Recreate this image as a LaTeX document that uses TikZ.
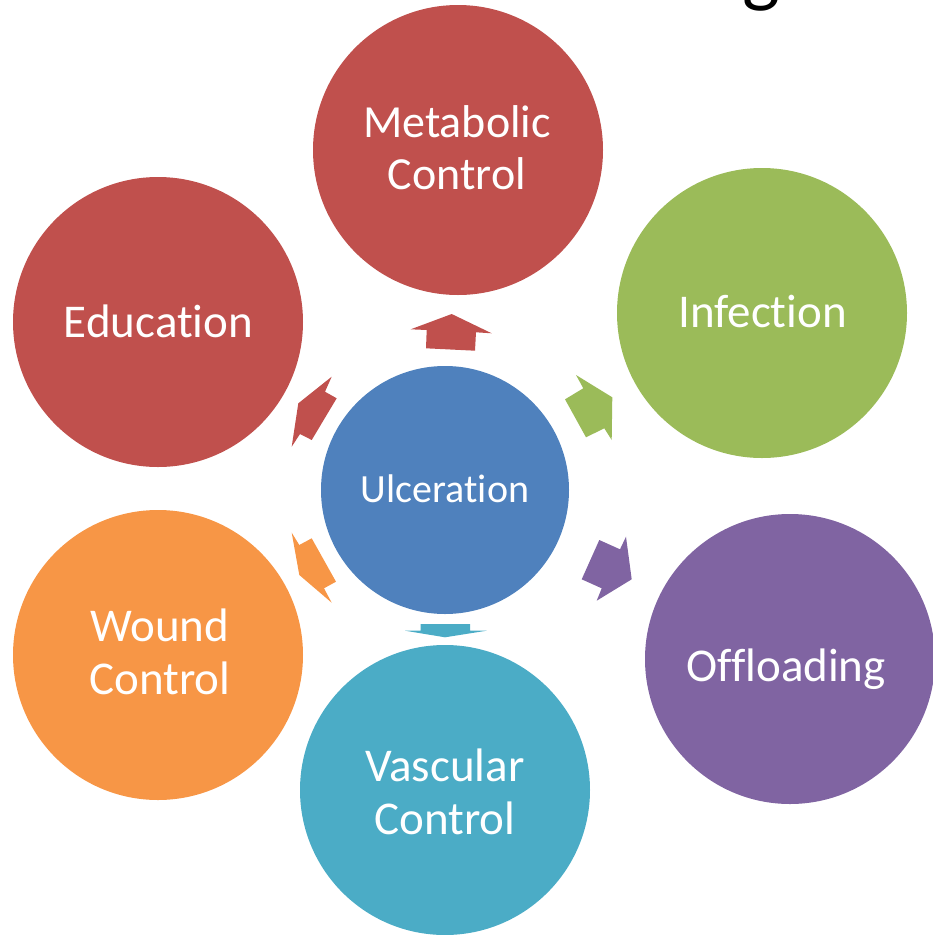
\documentclass[tikz,border=0pt]{standalone}
\usepackage{fontspec}
\setmainfont{Carlito}[Ligatures={NoCommon}]
\definecolor{ored}{HTML}{C0504D}
\definecolor{ogreen}{HTML}{9BBB59}
\definecolor{opurple}{HTML}{8064A2}
\definecolor{oteal}{HTML}{4BACC6}
\definecolor{oorange}{HTML}{F79646}
\definecolor{oblue}{HTML}{4F81BD}
\begin{document}
\begin{tikzpicture}[x=1pt,y=-1pt,
  bubble/.style={circle,inner sep=0pt,minimum size=290pt},
  hub/.style={circle,inner sep=0pt,minimum size=248pt,fill=oblue},
  caption/.style={text=white,align=center,inner sep=0pt,
    font=\fontsize{47}{53}\selectfont},
  pointer/.style={draw=none},
]
\useasboundingbox (0,0) rectangle (933,935);
\clip (0,0) rectangle (933,935);

% tail of the heading letter running off the top edge
\node[anchor=base,inner sep=0pt,font=\fontsize{80}{80}\selectfont] (headg) at (761,-3) {g};

% outer ring of topics
\node[bubble,fill=ored]    (metab) at (458,150) {};
\node[bubble,fill=ogreen]  (infec) at (762,313) {};
\node[bubble,fill=opurple] (offld) at (790,659) {};
\node[bubble,fill=oteal]   (vascl) at (445,790) {};
\node[bubble,fill=oorange] (wound) at (158,655) {};
\node[bubble,fill=ored]    (educ)  at (158,322) {};

% pointer shapes between the hub and each topic
\fill[pointer,ored]    (451.7,314) -- (491.7,333.3) -- (476,332.3) -- (475,350.7)
  -- (426,348.3) -- (426.7,330) -- (410.7,329.3) -- cycle;
\fill[pointer,ogreen]  (576,375) -- (583.3,388.3) -- (565,399.3) -- (586,437.3)
  -- (604.3,428.3) -- (611.7,440) -- (612.3,397.3) -- cycle;
\fill[pointer,opurple] (599.3,540) -- (620,549.3) -- (626,536.7) -- (631.7,579.3)
  -- (596.7,600.7) -- (601.7,588.3) -- (581.7,579.3) -- cycle;
\fill[pointer,oteal]   (420.7,624) -- (470,624) -- (470,630.7) -- (486.7,630.7)
  -- (445,637.3) -- (405,630.7) -- (420.7,630.7) -- cycle;
\fill[pointer,oorange] (291.7,532.7) -- (299.3,545) -- (311.7,538.3) -- (336,581.7)
  -- (324,588.3) -- (331.7,602.7) -- (299.3,575) -- cycle;
\fill[pointer,ored]    (331.7,376.7) -- (325,391.7) -- (336.7,398.3) -- (311.7,440)
  -- (300,434) -- (291.7,446.7) -- (298.3,403.3) -- cycle;

% hub
\node[hub] (ulcer) at (445,490) {};

% labels
\node[caption,font=\fontsize{46}{52}\selectfont] (tmetab) at (457,148) {Metabolic\\Control};
\node[caption] (tinfec) at (762.5,311) {Infection};
\node[caption] (toffld) at (786,669) {Offloading};
\node[caption] (tvascl) at (445,791.5) {Vascular\\Control};
\node[caption] (twound) at (160,652) {Wound\\Control};
\node[caption] (teduc)  at (158.5,321) {Education};
\node[caption,font=\fontsize{40}{46}\selectfont] (tulcer) at (445,489) {Ulceration};
\end{tikzpicture}
\end{document}
